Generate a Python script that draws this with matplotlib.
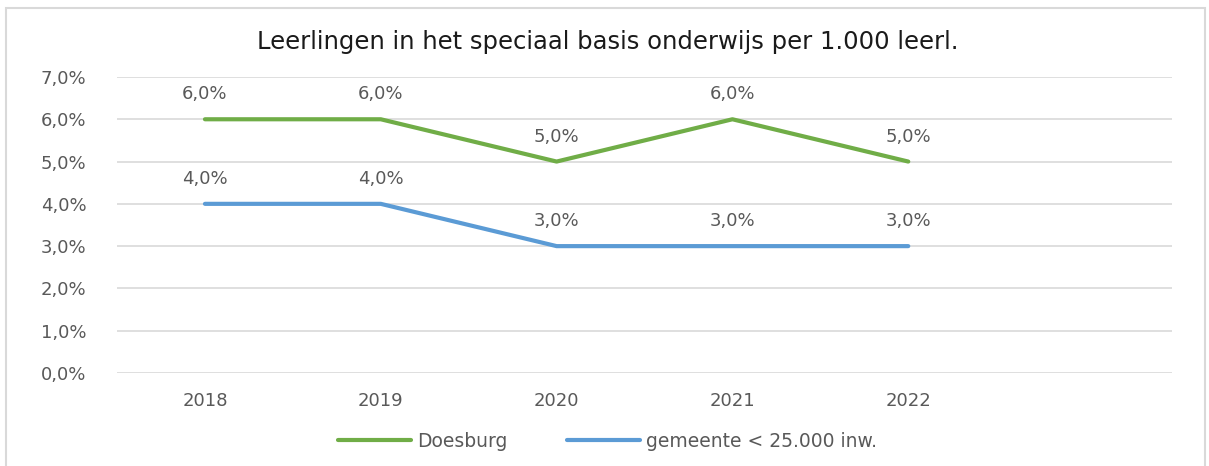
import matplotlib
matplotlib.use("Agg")
import matplotlib.pyplot as plt
from matplotlib.patches import Rectangle

years = ["2018", "2019", "2020", "2021", "2022", ""]
doesburg = [6.0, 6.0, 5.0, 6.0, 5.0]
gemeente = [4.0, 4.0, 3.0, 3.0, 3.0]
yticks = [0, 1, 2, 3, 4, 5, 6, 7]

GREEN = "#70AD47"
BLUE = "#5B9BD5"
GREY = "#595959"
FONT = ["DejaVu Sans"]

fig = plt.figure(figsize=(12.09, 4.66), dpi=100)
ax = fig.add_axes([0.0968, 0.1996, 0.8726, 0.6352])

# chart border like the office export
fig.patches.append(Rectangle((6 / 1209, -0.01), 1199 / 1209, 1 - 8 / 466 + 0.01,
                             transform=fig.transFigure, fill=False,
                             edgecolor="#D9D9D9", lw=1.5))

x = list(range(len(doesburg)))
for vals, col, name in [(doesburg, GREEN, "Doesburg"),
                        (gemeente, BLUE, "gemeente < 25.000 inw.")]:
    ax.plot(x, vals, color=col, lw=3, solid_capstyle="round", label=name, zorder=3)
    for xi, v in zip(x, vals):
        ax.annotate(f"{v:.1f}%".replace(".", ","), (xi, v), textcoords="offset points",
                    xytext=(0, 18), ha="center", va="center", fontsize=13,
                    color=GREY, family=FONT)

ax.set_xlim(-0.5, len(years) - 0.5)
ax.set_ylim(0, 7)
ax.set_xticks(range(len(years)))
ax.set_xticklabels(years)
ax.set_yticks(yticks)
ax.set_yticklabels([f"{v:.1f}%".replace(".", ",") for v in yticks])
for lab in ax.get_xticklabels() + ax.get_yticklabels():
    lab.set_family(FONT)
    lab.set_fontsize(13)
    lab.set_color(GREY)
ax.tick_params(length=0)
ax.tick_params(axis="x", pad=14)
ax.tick_params(axis="y", pad=22)
ax.grid(axis="y", color="#D9D9D9", lw=1.2)
ax.set_axisbelow(True)
for s in ax.spines.values():
    s.set_visible(False)

fig.text(0.503, 0.91, "Leerlingen in het speciaal basis onderwijs per 1.000 leerl.",
         ha="center", va="center", fontsize=17.5, family=FONT, color="#1a1a1a")

leg = ax.legend(loc="center", bbox_to_anchor=(0.465, -0.23), ncol=2, frameon=False,
                handlelength=3.9, columnspacing=3.2, handletextpad=0.3,
                prop={"family": FONT, "size": 13.5})
for t in leg.get_texts():
    t.set_color(GREY)

fig.savefig("out.png", dpi=100)
